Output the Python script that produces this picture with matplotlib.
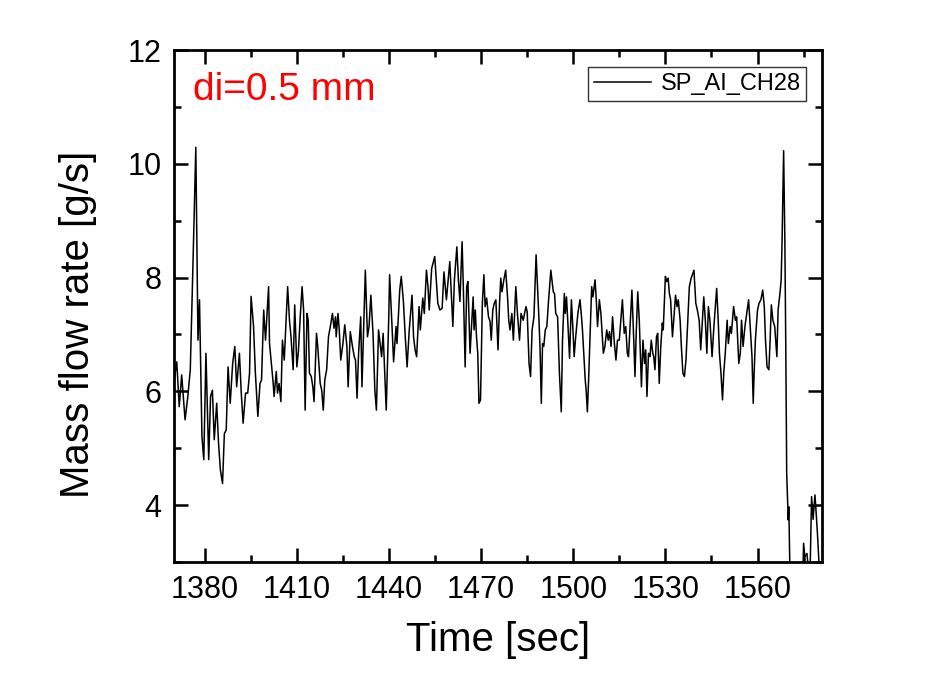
import matplotlib.pyplot as plt
from matplotlib.ticker import MultipleLocator

plt.rcParams['font.family'] = ['Liberation Sans', 'DejaVu Sans']

# time [sec] and mass flow rate [g/s]
t = [1370.1, 1370.9, 1371.7, 1372.5, 1373.6, 1374.5, 1375.3, 1376.1, 1377.1, 1377.8,
     1378.3, 1379.1, 1379.7, 1380.4, 1381.3, 1381.9, 1382.5, 1383.1, 1383.9, 1384.5,
     1385.1, 1385.8, 1386.4, 1387.0, 1387.6, 1388.3, 1389.1, 1389.8, 1390.4, 1391.3,
     1391.9, 1392.5, 1393.3, 1394.0, 1394.6, 1395.1, 1395.9, 1396.5, 1397.3, 1398.0,
     1398.5, 1398.9, 1399.2, 1399.8, 1400.8,
     1401.1, 1402.2, 1402.6, 1403.3, 1403.7, 1404.2, 1404.8, 1405.3, 1405.9, 1407.0,
     1407.6, 1408.1, 1408.8, 1409.3, 1410.0, 1410.5, 1411.1, 1411.7, 1412.2, 1412.7,
     1413.3, 1413.7, 1414.1, 1414.7, 1415.2, 1415.6, 1416.4, 1416.8, 1417.6, 1418.1,
     1418.6, 1419.1, 1419.7, 1420.3, 1420.9, 1421.6, 1422.1, 1422.6, 1422.8, 1423.4,
     1423.8, 1424.3, 1425.0, 1425.6, 1426.3, 1426.7, 1427.4, 1428.1, 1428.7, 1429.1,
     1429.6, 1430.1, 1430.8, 1431.2,
     1432.3, 1433.0, 1433.5, 1434.1, 1434.8, 1435.4, 1435.9, 1436.6, 1437.6, 1438.1,
     1438.7, 1439.1, 1439.9, 1440.2, 1440.9, 1441.5, 1442.3, 1442.6, 1443.5, 1444.0,
     1444.7, 1445.3, 1445.9, 1446.6, 1447.5, 1448.0, 1448.5, 1449.0, 1449.8, 1450.2,
     1451.0, 1451.5, 1452.2, 1452.7, 1453.1, 1453.9, 1454.9, 1455.4, 1455.9, 1456.6,
     1457.3, 1457.9, 1458.7, 1459.8, 1460.8, 1461.3, 1462.1,
     1462.6, 1463.1, 1463.8, 1464.2, 1464.8, 1465.3, 1465.7, 1466.4, 1467.4, 1467.7,
     1468.1, 1468.5, 1468.9, 1469.3, 1469.8, 1470.4, 1470.9, 1471.3, 1471.8, 1472.4,
     1472.9, 1473.3, 1473.8, 1474.3, 1474.8, 1475.5, 1476.0, 1476.4, 1476.8, 1477.4,
     1478.0, 1478.6, 1479.0, 1479.4, 1480.0, 1480.5, 1481.3, 1481.9, 1482.5, 1483.0,
     1483.7, 1484.6, 1485.0, 1485.6, 1486.1, 1486.6, 1487.2, 1487.6, 1487.9, 1488.5,
     1488.8, 1489.2, 1489.6, 1490.0, 1490.4, 1490.9, 1491.4, 1491.9, 1492.7,
     1493.5, 1493.9, 1494.3, 1494.9, 1495.5, 1496.1, 1496.5, 1497.1, 1497.4, 1497.8,
     1498.2, 1498.8, 1499.4, 1499.9, 1500.3, 1500.7, 1501.5, 1502.2, 1502.6, 1503.0,
     1503.5, 1503.9, 1504.2, 1504.6, 1505.0, 1505.4, 1506.0, 1506.4, 1507.1, 1507.5,
     1507.9, 1508.5, 1509.0, 1509.8, 1510.3, 1510.9, 1511.4, 1511.8, 1512.3, 1512.8,
     1513.4, 1513.9, 1514.4, 1515.0, 1515.5, 1516.0, 1516.6, 1517.1, 1517.6, 1518.0,
     1518.5, 1519.1, 1519.7, 1520.1, 1520.5, 1521.0, 1521.5, 1522.2, 1522.7,
     1523.2, 1523.6, 1524.0, 1524.5, 1525.0, 1525.4, 1525.9, 1526.2, 1526.6, 1527.1,
     1527.5, 1528.0, 1528.5, 1529.0, 1529.3, 1529.7, 1530.0, 1530.4, 1530.9, 1531.3,
     1531.7, 1532.3, 1532.8, 1533.3, 1533.8, 1534.2, 1534.8, 1535.2, 1535.7, 1536.2,
     1536.7, 1537.3, 1537.8, 1538.4, 1539.3, 1539.9, 1540.4, 1541.0, 1541.5, 1542.5,
     1543.0, 1543.5, 1544.0, 1544.5, 1545.2, 1545.8, 1546.7, 1547.2, 1547.6, 1548.1,
     1548.6, 1549.0, 1549.5, 1550.1, 1550.5, 1551.1, 1551.5, 1552.2, 1552.8, 1553.2,
     1553.9, 1554.4, 1554.8, 1555.3, 1555.9, 1556.5, 1557.1, 1557.6, 1558.2, 1558.6,
     1558.9, 1559.3, 1560.0, 1560.5, 1561.1, 1561.7, 1562.2, 1562.6, 1563.1, 1563.7,
     1564.1, 1564.5, 1565.0, 1565.6, 1566.3, 1566.7, 1567.3, 1567.7, 1568.0, 1568.5,
     1568.9, 1569.2, 1569.5, 1569.8, 1570.0, 1570.2, 1570.5, 1572.0, 1574.5, 1575.0,
     1575.4, 1576.1, 1576.5, 1577.0, 1577.6, 1578.1, 1578.7, 1579.1, 1579.5, 1580.1,
     1581.0]

flow = [6.20, 6.52, 5.73, 6.29, 5.50, 5.91, 6.38, 8.07, 10.29, 6.90,
        7.61, 5.20, 4.80, 6.67, 4.80, 5.91, 6.02, 5.15, 5.79, 5.09,
        4.62, 4.38, 5.26, 5.32, 6.43, 5.79, 6.49, 6.79, 6.08, 6.67,
        5.97, 5.44, 5.97, 5.97, 6.32, 7.67, 7.14, 6.32, 5.56, 6.14,
        6.20, 6.90, 7.43, 6.90, 7.84,
        6.84, 6.20, 5.91, 6.35, 5.97, 6.14, 5.82, 6.90, 6.55, 7.84,
        7.25, 6.96, 6.38, 7.52, 6.43, 6.70, 7.31, 7.84, 7.43, 5.67,
        7.37, 7.25, 6.32, 6.26, 6.08, 5.82, 7.02, 6.79, 6.14, 6.02,
        5.67, 6.20, 6.38, 6.96, 7.14, 7.37, 7.11, 7.31, 6.96, 7.37,
        7.08, 6.55, 6.84, 7.17, 6.79, 6.08, 7.05, 6.79, 6.61, 6.55,
        5.88, 6.67, 7.31, 6.08,
        8.13, 6.96, 7.14, 7.69, 7.02, 6.02, 5.67, 7.08, 6.61, 7.02,
        6.20, 5.67, 7.25, 8.05, 7.25, 6.52, 7.14, 6.84, 7.78, 8.02,
        7.58, 6.96, 6.43, 7.08, 7.69, 6.96, 6.73, 6.61, 7.49, 7.08,
        7.64, 7.37, 8.13, 7.84, 7.43, 8.16, 8.37, 7.96, 7.55, 7.43,
        7.46, 8.10, 7.61, 8.28, 7.14, 7.96, 8.54,
        7.96, 7.58, 8.63, 7.84, 6.43, 7.84, 7.93, 6.67, 7.66, 7.08,
        7.43, 6.96, 6.67, 5.79, 5.85, 7.55, 8.05, 7.49, 7.64, 7.31,
        7.23, 6.90, 7.43, 7.55, 7.61, 6.73, 7.55, 7.99, 7.75, 7.96,
        8.13, 7.66, 7.25, 7.08, 7.37, 6.90, 7.84, 7.31, 6.90, 7.37,
        7.25, 7.49, 7.40, 6.49, 6.26, 7.08, 7.31, 7.96, 8.40, 7.66,
        7.31, 6.73, 5.79, 6.84, 6.79, 7.08, 7.14, 7.55, 8.13,
        7.75, 7.72, 7.37, 7.31, 6.32, 5.64, 6.90, 7.72, 7.37, 7.66,
        7.25, 6.58, 7.61, 7.08, 6.61, 6.90, 7.37, 7.61, 7.37, 7.08,
        6.61, 6.20, 6.02, 5.64, 6.20, 6.84, 7.84, 7.66, 7.96, 7.61,
        7.14, 7.61, 7.37, 6.67, 6.79, 7.08, 6.90, 7.05, 6.79, 7.31,
        6.84, 6.55, 6.90, 6.90, 7.25, 7.61, 7.02, 7.14, 6.67, 6.61,
        7.14, 7.78, 6.90, 6.26, 7.02, 7.75, 7.25, 6.08, 6.90,
        6.49, 6.73, 5.91, 6.67, 6.61, 6.90, 6.67, 6.61, 6.38, 6.96,
        7.02, 6.14, 6.79, 7.20, 7.08, 7.61, 8.02, 7.93, 7.99, 7.72,
        7.61, 6.96, 7.31, 7.69, 7.49, 7.61, 7.25, 6.79, 6.32, 6.26,
        6.55, 7.25, 7.84, 7.99, 8.13, 7.55, 7.43, 7.25, 6.73, 7.66,
        7.25, 6.67, 7.49, 7.25, 6.61, 7.14, 7.81, 7.25, 6.67, 6.32,
        5.85, 6.32, 6.67, 7.25, 6.84, 7.14, 7.02, 7.49, 7.25, 7.31,
        6.49, 6.67, 7.25, 6.79, 7.14, 7.37, 7.61, 7.14, 6.61, 5.79,
        6.32, 6.90, 7.43, 7.55, 7.61, 7.78, 7.49, 6.90, 6.43, 6.38,
        6.90, 7.52, 7.25, 7.14, 6.61, 7.43, 7.72, 7.96, 8.66, 10.23,
        8.66, 6.79, 4.56, 4.09, 3.74, 3.97, 2.98, 2.2, 2.2, 3.33,
        3.10, 3.15, 2.90, 2.50, 4.15, 3.75, 4.18, 3.86, 3.51, 2.90,
        2.50]

fig = plt.figure(figsize=(9.34, 6.76), dpi=100)
ax = fig.add_axes([0.1863, 0.1686, 0.6938, 0.7574])

ax.plot(t, flow, color='black', lw=1.1, label='SP_AI_CH28')

ax.set_xlim(1370, 1581)
ax.set_ylim(3, 12)
ax.xaxis.set_major_locator(MultipleLocator(30))
ax.xaxis.set_minor_locator(MultipleLocator(15))
ax.yaxis.set_major_locator(MultipleLocator(2))
ax.yaxis.set_minor_locator(MultipleLocator(1))
ax.tick_params(which='both', direction='in', top=True, right=True, width=1.8, labelsize=22)
ax.tick_params(which='major', length=10, pad=9)
ax.tick_params(which='minor', length=5)
for s in ax.spines.values():
    s.set_linewidth(2)

ax.set_xlabel('Time [sec]', fontsize=29, labelpad=12)
ax.set_ylabel('Mass flow rate [g/s]', fontsize=29, labelpad=22)
ax.yaxis.label.set_y(0.465)

ax.text(0.029, 0.902, 'di=0.5 mm', color='red', fontsize=28, transform=ax.transAxes, va='baseline')

leg = ax.legend(loc='upper right', bbox_to_anchor=(0.976, 0.966), fontsize=17,
                frameon=True, fancybox=False, edgecolor='black', handlelength=2.4,
                borderpad=0.25, borderaxespad=0, handletextpad=0.4)
leg.get_frame().set_linewidth(1.0)

fig.savefig('out.png', dpi=100)
